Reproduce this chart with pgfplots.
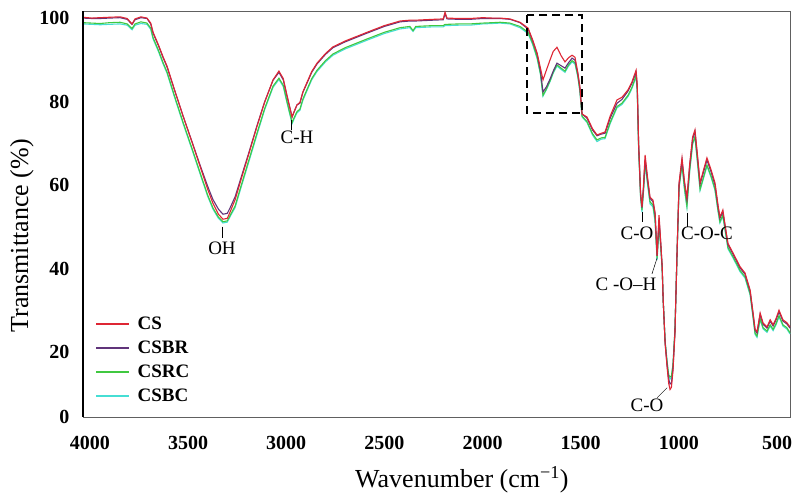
\documentclass[border=0pt]{standalone}
\usepackage{pgfplots}
\pgfplotsset{compat=1.18}
\usepackage{pgfplotstable}
\usepackage{fontspec}
\setmainfont{Liberation Serif}
\definecolor{csred}{RGB}{222,38,52}
\definecolor{csbr}{RGB}{96,52,122}
\definecolor{csrc}{RGB}{64,200,64}
\definecolor{csbc}{RGB}{70,222,212}

\pgfplotstableread{
wn CS CSBR CSRC CSBC
4035 100.2 100.0 98.9 98.6
3990 100.0 99.9 98.8 98.5
3948 100.1 99.9 98.7 98.4
3900 100.2 100.0 98.9 98.5
3846 100.3 100.1 99.0 98.6
3810 99.9 99.7 98.6 98.3
3785 98.6 98.5 97.5 97.2
3770 99.8 99.6 98.6 98.3
3740 100.3 100.1 99.1 98.7
3709 100.0 99.9 98.8 98.5
3690 98.8 98.6 97.6 97.3
3678 96.6 96.4 95.3 95.0
3650 93.5 93.3 92.2 91.9
3627 90.7 90.5 89.3 89.0
3607 88.5 88.3 87.1 86.8
3570 83.0 82.9 81.5 81.2
3525 76.5 76.5 75.0 74.7
3480 70.3 70.4 68.8 68.5
3439 64.5 64.8 63.0 62.7
3400 59.0 59.7 57.6 57.3
3373 55.6 56.5 54.5 54.2
3345 53.0 54.2 52.3 52.0
3322 51.8 53.0 51.2 50.9
3300 52.0 53.2 51.4 51.1
3286 53.5 54.5 52.7 52.4
3260 56.5 57.2 55.0 54.6
3235 60.5 61.0 59.0 58.6
3190 67.5 67.8 66.0 65.6
3149 74.0 74.2 72.4 72.0
3110 79.8 79.9 78.3 78.0
3067 85.2 85.1 83.7 83.4
3037 87.3 87.0 85.6 85.3
3015 85.5 85.2 83.9 83.6
2996 81.5 81.3 80.0 79.7
2970 76.3 76.3 75.0 74.7
2958 77.8 77.7 76.3 76.0
2945 79.2 79.2 77.6 77.3
2930 79.8 79.6 78.2 77.9
2915 82.3 82.2 80.6 80.3
2894 84.6 84.4 82.9 82.6
2870 87.2 87.0 85.5 85.2
2843 89.2 89.0 87.5 87.2
2800 91.5 91.3 89.8 89.5
2762 93.1 92.9 91.4 91.1
2700 94.5 94.3 92.9 92.6
2588 96.6 96.4 95.0 94.7
2500 98.2 98.0 96.6 96.3
2420 99.3 99.1 97.7 97.4
2370 99.5 99.3 98.0 97.7
2354 99.5 99.3 97.0 96.8
2340 99.5 99.3 98.0 97.7
2252 99.7 99.5 98.2 97.9
2200 99.8 99.6 98.2 97.9
2191 101.4 101.0 98.5 98.2
2181 100.0 99.8 98.5 98.2
2120 99.9 99.7 98.6 98.3
2064 99.9 99.7 98.6 98.3
2000 100.1 99.9 98.8 98.6
1950 100.0 99.9 98.9 98.7
1911 100.0 99.9 99.0 98.8
1860 99.8 99.7 98.8 98.6
1809 99.0 98.9 98.0 97.7
1768 97.6 97.4 96.6 96.3
1745 94.8 94.6 94.0 93.7
1722 91.6 91.4 90.6 90.3
1705 88.0 87.3 86.7 86.5
1692 85.2 82.3 81.5 81.3
1675 87.5 83.5 83.0 82.8
1656 90.0 85.4 85.0 84.8
1640 92.0 87.3 87.0 86.8
1621 93.0 89.2 88.8 88.5
1600 91.0 88.6 88.0 87.7
1580 89.5 88.0 87.3 87.0
1562 90.5 89.3 88.8 88.5
1544 91.1 90.4 89.8 89.5
1529 90.6 89.9 89.3 89.0
1515 87.0 86.8 86.2 86.0
1504 83.5 83.2 82.6 82.3
1493 77.0 77.0 76.5 76.3
1468 76.3 76.0 75.2 75.0
1440 73.5 73.2 72.3 72.0
1417 72.0 71.8 70.8 70.4
1395 72.4 72.2 71.3 71.0
1376 72.7 72.4 71.4 71.1
1350 76.5 76.0 75.0 74.7
1315 80.4 79.6 78.8 78.5
1290 81.0 80.5 79.6 79.3
1259 82.8 82.5 81.5 81.2
1239 84.7 84.4 83.4 83.1
1218 87.5 87.0 86.2 85.9
1212 84.0 83.6 82.8 82.5
1205 70.0 69.7 69.0 68.7
1195 58.0 57.8 57.3 57.0
1188 54.7 54.6 54.0 53.5
1180 60.0 59.5 58.8 58.5
1172 67.2 66.2 65.5 65.0
1160 62.0 61.5 60.8 60.3
1147 57.1 56.8 56.0 55.5
1132 56.4 56.0 55.2 54.8
1121 53.3 53.0 51.8 51.0
1111 43.0 43.0 42.5 42.0
1101 52.8 52.0 50.5 50.0
1092 46.0 45.8 45.0 44.8
1085 40.4 40.3 40.0 39.8
1080 32.5 32.5 32.5 32.5
1070 22.0 22.2 22.5 22.5
1060 16.4 16.8 17.5 17.8
1052 12.5 13.5 14.5 14.3
1045 11.0 12.3 14.0 13.5
1038 11.5 12.5 14.2 13.8
1030 15.5 16.0 17.0 17.0
1020 24.5 24.8 25.2 25.3
1009 44.4 44.2 44.0 44.0
999 60.5 60.2 59.5 59.3
984 66.5 66.0 65.0 64.8
972 61.0 60.7 59.5 59.0
959 56.9 56.5 55.0 54.6
945 65.0 64.5 63.5 63.2
930 71.5 71.0 70.0 69.8
918 73.2 72.8 71.6 71.4
905 67.0 66.6 65.5 65.2
892 60.5 60.2 59.0 58.7
875 63.5 63.0 61.8 61.5
857 66.5 66.0 64.8 64.5
835 63.5 63.0 62.0 61.7
816 60.5 60.0 59.0 58.7
800 55.0 54.6 53.8 53.5
791 52.3 52.0 51.2 50.9
776 54.0 53.6 52.8 52.5
760 49.0 48.7 48.0 47.7
750 46.0 45.7 45.0 44.7
724 43.7 43.4 42.8 42.5
700 41.5 41.2 40.6 40.3
688 40.4 40.1 39.5 39.2
663 38.9 38.6 38.0 37.7
637 34.8 34.5 33.9 33.6
622 29.3 29.0 28.4 28.1
612 25.5 25.2 24.5 24.2
602 24.8 24.5 23.8 23.5
586 29.3 29.0 28.0 27.7
571 26.9 26.6 25.8 25.5
551 26.0 25.7 25.0 24.7
535 27.7 27.4 26.5 26.2
520 26.5 26.2 25.4 25.1
505 28.0 27.7 26.8 26.5
490 30.0 29.6 28.7 28.4
470 27.7 27.4 26.5 26.2
450 27.0 26.7 25.8 25.5
434 26.0 25.7 24.6 24.3
}\ftir

\begin{document}
\begin{tikzpicture}
\useasboundingbox (-83pt,-83pt) rectangle (717pt,417pt);
\begin{axis}[
  at={(0pt,0pt)}, anchor=south west,
  scale only axis, width=707pt, height=406pt,
  x dir=reverse,
  xmin=434, xmax=4035, ymin=4.4, ymax=101.7,
  xtick={500,1000,1500,2000,2500,3000,3500,4000},
  ytick={4.4,20,40,60,80,100},
  yticklabels={0,20,40,60,80,100},
  /pgf/number format/1000 sep={},
  /pgf/number format/assume math mode=true,
  major tick length=0pt,
  axis line style={draw=gray!75!black, line width=0.8pt},
  ticklabel style={font=\bfseries\fontsize{20}{24}\selectfont},
  xticklabel style={yshift=-16pt},
  yticklabel style={xshift=-10pt},
  xlabel={Wavenumber (cm\textsuperscript{−1})},
  ylabel={Transmittance (\%)},
  label style={font=\fontsize{26}{30}\selectfont},
  xlabel style={at={(rel axis cs:0.536,0)}, anchor=center, yshift=-63pt},
  ylabel style={at={(rel axis cs:0,0.446)}, anchor=center, yshift=61pt},
  clip=false,
  reverse legend,
  legend style={at={(rel axis cs:0.017,0.252)}, anchor=north west, draw=none, fill=none,
    font=\bfseries\fontsize{19}{21}\selectfont, row sep=6pt, inner sep=0pt,
    nodes={inner sep=2pt}},
  legend cell align=left,
  legend image code/.code={\draw[#1, line width=1.6pt] (0pt,0pt) -- (33pt,0pt); \path (39pt,0pt);},
  every axis plot/.append style={line width=1.1pt},
]
\addplot[csbc, no marks] table[x=wn, y=CSBC] {\ftir};
\addlegendentry{CSBC}
\addplot[csrc, no marks] table[x=wn, y=CSRC] {\ftir};
\addlegendentry{CSRC}
\addplot[csbr, no marks] table[x=wn, y=CSBR] {\ftir};
\addlegendentry{CSBR}
\addplot[csred, no marks] table[x=wn, y=CS] {\ftir};
\addlegendentry{CS}

\draw[black, line width=1.4pt] (rel axis cs:0,0) -- (rel axis cs:0,1);
\draw[black, line width=2pt, dash pattern=on 8pt off 5pt] (axis cs:1774,100.7) rectangle (axis cs:1493,77.2);

\begin{scope}[every node/.style={font=\fontsize{19}{22}\selectfont, inner sep=0pt}]
\draw[black, line width=0.5pt] (axis cs:3327,50.0) -- (axis cs:3327,47.3);
\node at (axis cs:3327,44.9) {OH};
\draw[black, line width=0.5pt] (axis cs:2975,75.6) -- (axis cs:2975,73.2);
\node at (axis cs:2945,71.5) {C-H};
\draw[black, line width=0.5pt] (axis cs:1188,53.5) -- (axis cs:1188,51.1);
\node at (axis cs:1213,48.5) {C-O};
\draw[black, line width=0.5pt] (axis cs:959,53.3) -- (axis cs:959,50.0);
\node at (axis cs:857,48.5) {C-O-C};
\draw[black, line width=0.5pt] (axis cs:1137,38.7) -- (axis cs:1111,42.5);
\node at (axis cs:1269,36.3) {C -O--H};
\draw[black, line width=0.5pt] (axis cs:1111,9.0) -- (axis cs:1060,11.4);
\node at (axis cs:1162,7.1) {C-O};
\end{scope}
\end{axis}
\end{tikzpicture}
\end{document}
